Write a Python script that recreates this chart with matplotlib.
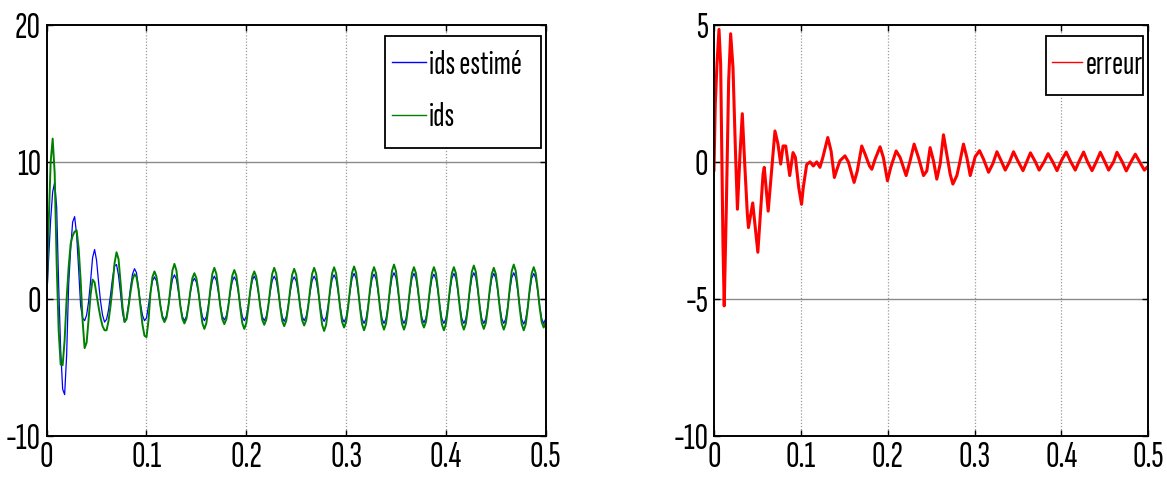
import numpy as np
import matplotlib
matplotlib.use("Agg")
import matplotlib.pyplot as plt
from matplotlib import font_manager
from matplotlib.patches import Rectangle

# ---- data -------------------------------------------------------------
# common time base for the two currents (s), 2 ms step
t = np.linspace(0.0, 0.5, 251)

# estimated stator current ids (blue)
ids_est = [
    0.0, 3.0, 5.8, 7.8, 8.5, 6.7, 1.0, -3.7, -6.6, -7.0,
    -4.1, 1.0, 3.6, 5.6, 6.0, 4.7, 2.2, -0.5, -1.4, -1.6,
    -1.2, -0.2, 1.3, 3.0, 3.6, 2.8, 1.2, -0.2, -1.2, -1.7,
    -1.5, -0.8, 0.3, 1.5, 2.4, 2.5, 1.7, 0.4, -1.0, -1.7,
    -1.4, -0.4, 0.8, 1.8, 2.2, 1.9, 0.8, -0.4, -1.2, -1.6,
    -1.4,
    -0.5, 0.5, 1.3, 1.6, 1.3, 0.5, -0.48, -1.26, -1.55,
    -1.26, -0.48, 0.54, 1.42, 1.75, 1.42, 0.54, -0.50, -1.30, -1.6,
    -1.30, -0.50, 0.47, 1.22, 1.5, 1.22, 0.47, -0.50, -1.30, -1.6,
    -1.30, -0.50, 0.51, 1.34, 1.65, 1.34, 0.51, -0.48, -1.26, -1.55,
    -1.26, -0.48, 0.50, 1.30, 1.6, 1.30, 0.50, -0.50, -1.30, -1.6,
    -1.30, -0.50, 0.51, 1.34, 1.65, 1.34, 0.51, -0.50, -1.30, -1.6,
    -1.30, -0.50, 0.51, 1.34, 1.65, 1.34, 0.51, -0.51, -1.34, -1.65,
    -1.34, -0.51, 0.50, 1.30, 1.6, 1.30, 0.50, -0.50, -1.30, -1.6,
    -1.30, -0.50, 0.51, 1.34, 1.65, 1.34, 0.51, -0.51, -1.34, -1.65,
    -1.34, -0.51, 0.54, 1.42, 1.75, 1.42, 0.54, -0.53, -1.38, -1.7,
    -1.38, -0.53, 0.57, 1.50, 1.85, 1.50, 0.57, -0.56, -1.46, -1.8,
    -1.46, -0.56, 0.56, 1.46, 1.8, 1.46, 0.56, -0.56, -1.46, -1.8,
    -1.46, -0.56, 0.59, 1.54, 1.9, 1.54, 0.59, -0.56, -1.46, -1.8,
    -1.46, -0.56, 0.57, 1.50, 1.85, 1.50, 0.57, -0.54, -1.42, -1.75,
    -1.42, -0.54, 0.56, 1.46, 1.8, 1.46, 0.56, -0.56, -1.46, -1.8,
    -1.46, -0.56, 0.57, 1.50, 1.85, 1.50, 0.57, -0.56, -1.46, -1.8,
    -1.46, -0.56, 0.59, 1.54, 1.9, 1.54, 0.59, -0.56, -1.46, -1.8,
    -1.46, -0.56, 0.57, 1.50, 1.85, 1.50, 0.57, -0.56, -1.46, -1.8,
    -1.46, -0.56, 0.59, 1.54, 1.9, 1.54, 0.59, -0.57, -1.50, -1.85,
    -1.50, -0.57, 0.57, 1.50, 1.85, 1.50, 0.57, -0.56, -1.46, -1.8,
    -1.46,
]

# measured stator current ids (green)
ids_meas = [
    0.0, 5.5, 10.0, 11.7, 9.2, 2.6, -2.3, -4.8, -4.85, -3.0,
    0.0, 2.3, 4.0, 4.6, 4.9, 5.0, 3.7, 1.4, -1.6, -3.6,
    -3.2, -1.5, 0.3, 1.4, 1.2, 0.3, -0.6, -1.4, -2.0, -2.3,
    -2.3, -1.6, -0.5, 0.9, 2.6, 3.4, 2.9, 1.2, -0.6, -1.7,
    -1.5, -0.6, 0.5, 1.4, 1.8, 1.6, 0.7, -0.6, -1.9, -2.7,
    -2.8,
    -1.6, 0.4, 1.6, 2.0, 1.62, 0.62, -0.53, -1.38, -1.7,
    -1.38, -0.53, 0.79, 2.07, 2.55, 2.07, 0.79, -0.56, -1.46, -1.8,
    -1.46, -0.56, 0.58, 1.51, 1.87, 1.51, 0.58, -0.68, -1.78, -2.2,
    -1.78, -0.68, 0.70, 1.83, 2.26, 1.83, 0.70, -0.57, -1.50, -1.85,
    -1.50, -0.57, 0.65, 1.70, 2.1, 1.70, 0.65, -0.68, -1.78, -2.2,
    -1.78, -0.68, 0.62, 1.62, 2.0, 1.62, 0.62, -0.59, -1.54, -1.9,
    -1.54, -0.59, 0.70, 1.83, 2.26, 1.83, 0.70, -0.62, -1.62, -2.0,
    -1.62, -0.62, 0.68, 1.77, 2.19, 1.77, 0.68, -0.60, -1.58, -1.95,
    -1.58, -0.60, 0.70, 1.83, 2.26, 1.83, 0.70, -0.73, -1.90, -2.35,
    -1.90, -0.73, 0.71, 1.86, 2.3, 1.86, 0.71, -0.65, -1.70, -2.1,
    -1.70, -0.65, 0.73, 1.91, 2.36, 1.91, 0.73, -0.71, -1.86, -2.3,
    -1.86, -0.71, 0.72, 1.87, 2.31, 1.87, 0.72, -0.70, -1.82, -2.25,
    -1.82, -0.70, 0.78, 2.03, 2.5, 2.03, 0.78, -0.70, -1.82, -2.25,
    -1.82, -0.70, 0.72, 1.87, 2.31, 1.87, 0.72, -0.65, -1.70, -2.1,
    -1.70, -0.65, 0.72, 1.87, 2.31, 1.87, 0.72, -0.71, -1.86, -2.3,
    -1.86, -0.71, 0.72, 1.87, 2.31, 1.87, 0.72, -0.70, -1.82, -2.25,
    -1.82, -0.70, 0.75, 1.97, 2.43, 1.97, 0.75, -0.68, -1.78, -2.2,
    -1.78, -0.68, 0.70, 1.83, 2.26, 1.83, 0.70, -0.70, -1.82, -2.25,
    -1.82, -0.70, 0.78, 2.03, 2.5, 2.03, 0.78, -0.71, -1.86, -2.3,
    -1.86, -0.71, 0.72, 1.87, 2.31, 1.87, 0.72, -0.65, -1.70, -2.1,
    -1.70,
]

# estimation error (red), sampled at its turning points
t_err = [
    0.0, 0.0015, 0.0035, 0.0058, 0.0077, 0.0104, 0.0118, 0.0142, 0.0169, 0.0192,
    0.0219, 0.0246, 0.0270, 0.0300, 0.0326, 0.0354, 0.0384, 0.0397, 0.0446, 0.0505,
    0.0565, 0.0579, 0.0624, 0.0702, 0.0737, 0.0768, 0.0795, 0.0826, 0.0872, 0.0910,
    0.0937, 0.0976, 0.1008, 0.1028, 0.1067, 0.1106, 0.1144, 0.1183, 0.1220, 0.1253,
    0.1310, 0.1348, 0.1386, 0.1413, 0.1450, 0.1508, 0.1547, 0.1613, 0.1650, 0.1701,
    0.1740, 0.1790, 0.1817, 0.1855, 0.1912, 0.1950, 0.1997, 0.2035, 0.2097, 0.2143,
    0.2212, 0.2258, 0.2304, 0.2354, 0.2412, 0.2450, 0.2488, 0.2527, 0.2565, 0.2604,
    0.2642, 0.2680, 0.2719, 0.2750, 0.2796, 0.2826, 0.2872, 0.2911, 0.2950, 0.3007,
    0.3057, 0.3103, 0.3161, 0.3211, 0.3257, 0.3303, 0.3353, 0.3402, 0.3448, 0.3499,
    0.3557, 0.3600, 0.3643, 0.3700, 0.3743, 0.3800, 0.3846, 0.3900, 0.3949, 0.4000,
    0.4055, 0.4100, 0.4159, 0.4200, 0.4255, 0.4300, 0.4352, 0.4400, 0.4447, 0.4500,
    0.4543, 0.4600, 0.4639, 0.4700, 0.4746, 0.4800, 0.4850, 0.4900, 0.4954, 0.5000,
]
erreur = [
    -0.3, 2.1, 3.6, 4.84, 3.56, -3.1, -5.26, -1.7, 2.96, 4.68,
    3.44, 0.52, -1.73, 0.3, 1.76, -0.08, -1.9, -2.4, -1.5, -3.3,
    -0.45, -0.2, -1.8, 1.13, 0.65, -0.08, 0.58, 0.58, -0.5, 0.34,
    0.17, -0.94, -1.55, -0.94, -0.1, 0.0, -0.15, 0.0, -0.2, 0.16,
    0.89, 0.4, -0.57, -0.3, 0.04, 0.22, 0.0, -0.75, -0.33, 0.58,
    0.28, -0.15, -0.27, 0.1, 0.55, 0.16, -0.69, -0.2, 0.4, 0.16,
    -0.5, 0.04, 0.65, 0.16, -0.5, -0.33, 0.52, 0.04, -0.63, -0.07,
    0.99, 0.28, -0.45, -0.81, -0.5, -0.07, 0.65, 0.16, -0.5, 0.19,
    0.41, 0.1, -0.38, -0.06, 0.37, 0.06, -0.3, 0.0, 0.37, 0.03,
    -0.32, 0.0, 0.33, 0.0, -0.3, 0.0, 0.3, 0.0, -0.32, 0.05,
    0.36, 0.05, -0.3, 0.0, 0.36, 0.0, -0.32, 0.0, 0.35, 0.0,
    -0.3, 0.0, 0.35, 0.0, -0.33, 0.0, 0.28, 0.0, -0.3, -0.15,
]

x_ticks = [0, 0.1, 0.2, 0.3, 0.4, 0.5]
x_ticklabels = ["0", "0.1", "0.2", "0.3", "0.4", "0.5"]
y_ticks_left = [-10, 0, 10, 20]
y_ticks_right = [-10, -5, 0, 5]

# ---- style ------------------------------------------------------------
available = {f.name for f in font_manager.fontManager.ttflist}
narrow = next((n for n in ("Sofia Sans Extra Condensed", "Pathway Gothic One",
                           "Fira Sans Extra Condensed", "Archivo Narrow",
                           "Liberation Sans")
               if n in available), "DejaVu Sans")
plt.rcParams["font.family"] = [narrow, "DejaVu Sans"]

TICK_FS = 27
LEG_FS = 24

W, H = 1167.0, 484.0


def fig_xy(px, py):
    """pixel position (from top-left) -> figure fraction"""
    return px / W, 1.0 - py / H


def style_axes(ax, ylim, yticks):
    ax.set_xlim(0, 0.5)
    ax.set_ylim(*ylim)
    ax.set_xticks(x_ticks)
    ax.set_xticklabels(x_ticklabels)
    ax.set_yticks(yticks)
    ax.set_yticklabels([str(v) for v in yticks])
    ax.tick_params(direction="in", length=4, width=1.0, top=True, right=True,
                   labelsize=TICK_FS, colors="black")
    ax.tick_params(axis="x", pad=4)
    ax.tick_params(axis="y", pad=4)
    for s in ax.spines.values():
        s.set_linewidth(1.4)
        s.set_color("black")
    # vertical grid dotted, horizontal grid solid grey
    for xv in x_ticks[1:-1]:
        ax.axvline(xv, color="#9a9a9a", lw=0.9, ls=(0, (1, 1.5)), zorder=0)
    for yv in yticks[1:-1]:
        ax.axhline(yv, color="#8a8a8a", lw=1.0, zorder=0)


def boxed_legend(ax, frame_px, anchor_px, handlelength):
    """legend entries placed at anchor_px, surrounded by a plain black frame"""
    x0, y0, x1, y1 = frame_px
    fx0, fy1 = fig_xy(x0, y1)
    fx1, fy0 = fig_xy(x1, y0)
    frame = Rectangle((fx0, fy1), fx1 - fx0, fy0 - fy1, transform=fig.transFigure,
                      facecolor="white", edgecolor="black", lw=1.3,
                      zorder=4, clip_on=False)
    ax.add_patch(frame)
    leg = ax.legend(loc="upper left", bbox_to_anchor=fig_xy(*anchor_px),
                    bbox_transform=fig.transFigure, frameon=False,
                    fontsize=LEG_FS, borderpad=0.0, borderaxespad=0.0,
                    handlelength=handlelength, handletextpad=0.1,
                    labelspacing=0.68)
    leg.set_zorder(5)
    for h in leg.get_lines():
        h.set_linewidth(1.0)
    return leg


fig = plt.figure(figsize=(11.67, 4.84), dpi=100)
ax1 = fig.add_axes([0.0400, 0.0998, 0.4276, 0.8486])
ax2 = fig.add_axes([0.6118, 0.0998, 0.3722, 0.8486])

style_axes(ax1, (-10, 20), y_ticks_left)
style_axes(ax2, (-10, 5), y_ticks_right)

ax1.plot(t, ids_est, color="#0000ff", lw=0.9, label="ids estimé")
ax1.plot(t, ids_meas, color="#008000", lw=1.4, label="ids")
ax2.plot(t_err, erreur, color="#ff0000", lw=2.2, label="erreur")

boxed_legend(ax1, (385.3, 35.7, 540.7, 147.7), (392.0, 49.5), 1.02)
boxed_legend(ax2, (1046.0, 35.7, 1143.3, 95.0), (1052.0, 49.5), 0.9)

fig.savefig("out.png", dpi=100)
